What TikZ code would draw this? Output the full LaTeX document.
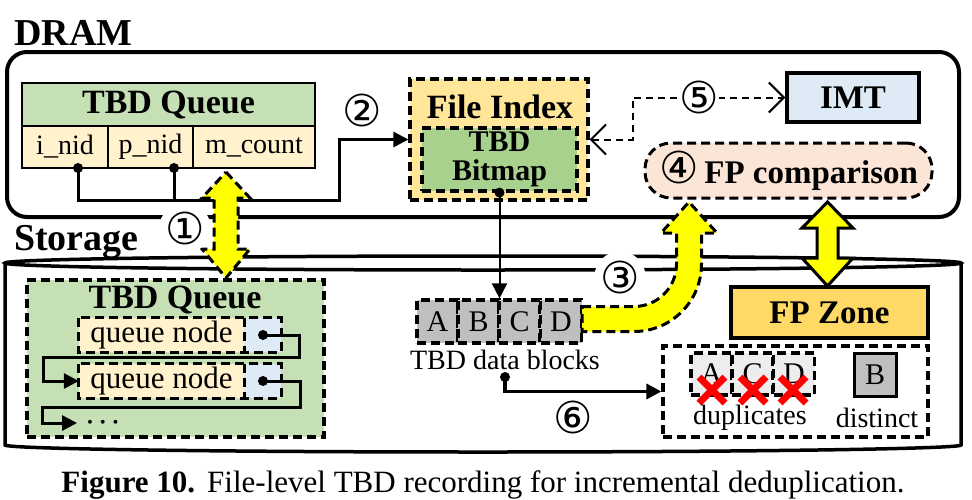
\documentclass[tikz,border=0pt]{standalone}
\usepackage{fontspec}
\setmainfont{Liberation Serif}
\newfontfamily\circfont{DejaVu Sans}
\usetikzlibrary{arrows.meta}
\definecolor{qgreen}{HTML}{C5E0B4}
\definecolor{qyel}{HTML}{FFF2CC}
\definecolor{qblue}{HTML}{DEEBF7}
\definecolor{fiorange}{HTML}{FFE699}
\definecolor{bmgreen}{HTML}{A9D18E}
\definecolor{fppeach}{HTML}{FBE5D6}
\definecolor{fpzone}{HTML}{FFD966}
\definecolor{blkgray}{HTML}{BFBFBF}
\definecolor{dupgray}{HTML}{EDEDED}
\definecolor{yel}{HTML}{FFFF00}
\definecolor{xred}{HTML}{FF0000}
\tikzset{
  conn/.style={line width=3pt},
  dsh/.style={dash pattern=on 9pt off 5pt},
  dbox/.style={draw, line width=3.2pt, dsh, inner sep=0pt},
  sbox/.style={draw, line width=3.5pt, inner sep=0pt},
  tcell/.style={draw, line width=2.2pt, inner sep=0pt},
  tri/.style={-{Triangle[length=15pt,width=15pt]}},
  barb/.style={{Straight Barb[length=15pt,width=30pt]}-{Straight Barb[length=15pt,width=30pt]}},
  yarrow/.style={fill=yel, draw, line width=3pt, dsh},
  ysolid/.style={fill=yel, draw, line width=3pt},
  lab/.style={inner sep=0pt},
  bigf/.style={font=\fontsize{38}{40}\selectfont\bfseries},
  hdrf/.style={font=\fontsize{34}{36}\selectfont\bfseries},
  bldf/.style={font=\fontsize{33}{35}\selectfont\bfseries},
  bmf/.style={font=\fontsize{30}{29}\selectfont\bfseries},
  regf/.style={font=\fontsize{28}{30}\selectfont},
  qnf/.style={font=\fontsize{31}{33}\selectfont},
  capf/.style={font=\fontsize{31}{33}\selectfont},
  letf/.style={font=\fontsize{30}{32}\selectfont},
  numf/.style={font=\fontsize{44}{46}\selectfont\circfont, inner sep=0pt},
  numw/.style={numf, fill=white, circle, inner sep=0pt},
  redx/.style={draw=xred, line width=7pt},
}
\begin{document}
\begin{tikzpicture}[x=1pt,y=-1pt]
\useasboundingbox (0,0) rectangle (972,499);
% ---------- DRAM ----------
\node[bigf, lab, anchor=base west] (dramlbl) at (14,45) {DRAM};
\draw[line width=4pt, rounded corners=20pt] (7,52) rectangle (959,217);
% ---------- Storage cylinder ----------
\node[bigf, lab, anchor=base west] (storlbl) at (14,250) {Storage};
\draw[line width=3.5pt, fill=white] (5,263) -- (5,445) arc[start angle=180, end angle=0, x radius=478, y radius=7] -- (961,263);
\draw[line width=3.5pt] (483,263) ellipse[x radius=478, y radius=7];

% ---------- DRAM TBD queue table ----------
\node[tcell, fill=qgreen, hdrf, minimum width=293pt, minimum height=43pt] (dq) at (168.5,104.5) {TBD Queue};
\node[tcell, fill=qyel, regf, minimum width=86pt, minimum height=42pt] (inid) at (65,147) {i\_nid};
\node[tcell, fill=qyel, regf, minimum width=85pt, minimum height=42pt] (pnid) at (150.5,147) {p\_nid};
\node[tcell, fill=qyel, regf, minimum width=122pt, minimum height=42pt] (mcount) at (254,147) {m\_count};

% ---------- File index ----------
\node[dbox, fill=fiorange, minimum width=178pt, minimum height=121pt] (fi) at (499,139.5) {};
\node[hdrf, lab, anchor=base] (filbl) at (500,118) {File Index};
\node[dbox, fill=bmgreen, bmf, align=center, minimum width=155pt, minimum height=63pt] (bm) at (499.5,159.5) {TBD\\Bitmap};

% ---------- IMT, FP comparison ----------
\node[sbox, fill=qblue, bldf, minimum width=132pt, minimum height=49pt] (imt) at (853,97.5) {IMT};
\node[draw, line width=3pt, dsh, rounded corners=26pt, fill=fppeach, bldf, inner sep=0pt, minimum width=287pt, minimum height=55pt] (fpc) at (788.5,170.5) {{\fontsize{44}{46}\selectfont\circfont\mdseries ④}\hspace{6pt}FP comparison};

% ---------- FP zone ----------
\node[sbox, fill=fpzone, bldf, minimum width=197pt, minimum height=51pt] (fpz) at (829.5,312.5) {FP Zone};

% ---------- Storage TBD queue ----------
\node[dbox, fill=qgreen, minimum width=297pt, minimum height=157pt] (sq) at (175.5,358.5) {};
\node[hdrf, lab, anchor=base] (sqlbl) at (175,308) {TBD Queue};
\node[fill=qyel, qnf, inner sep=0pt, minimum width=165pt, minimum height=34pt] (qn1) at (161.5,335) {queue node};
\node[fill=qblue, inner sep=0pt, minimum width=37pt, minimum height=34pt] (qb1) at (262.5,335) {};
\node[fill=qyel, qnf, inner sep=0pt, minimum width=165pt, minimum height=34pt] (qn2) at (161.5,381) {queue node};
\node[fill=qblue, inner sep=0pt, minimum width=37pt, minimum height=34pt] (qb2) at (262.5,381) {};
\draw[line width=3pt, dsh] (qn1.north west) rectangle (qb1.south east);
\draw[line width=3pt, dsh] (qn1.north east) -- (qn1.south east);
\draw[line width=3pt, dsh] (qn2.north west) rectangle (qb2.south east);
\draw[line width=3pt, dsh] (qn2.north east) -- (qn2.south east);
\coordinate (p1) at (263,335);
\coordinate (p2) at (263,381);
\coordinate (more) at (77,423);
\draw[conn, tri] (p1) -- (299,335) -- (299,357) -- (43,357) |- (qn2.west);
\draw[conn, tri] (p2) -- (300,381) -- (300,407) -- (42,407) |- (more);
\fill (p1) circle (5pt);
\fill (p2) circle (5pt);
\node[font=\fontsize{32}{34}\selectfont\boldmath, lab, anchor=base west] (dots) at (86,428) {$\cdots$};

% ---------- TBD data blocks ----------
\node[dbox, fill=blkgray, letf, minimum width=41pt, minimum height=43pt] (cA) at (437.5,321.5) {A};
\node[dbox, fill=blkgray, letf, minimum width=41pt, minimum height=43pt] (cB) at (478.5,321.5) {B};
\node[dbox, fill=blkgray, letf, minimum width=41pt, minimum height=43pt] (cC) at (519.5,321.5) {C};
\node[dbox, fill=blkgray, letf, minimum width=41pt, minimum height=43pt] (cD) at (561,321.5) {D};
\node[regf, lab] (tdb) at (505,360) {TBD data blocks};

% ---------- result box ----------
\node[dbox, minimum width=265pt, minimum height=91pt] (res) at (795.5,391.5) {};
\node[dbox, fill=dupgray, letf, minimum width=41pt, minimum height=42pt] (dA) at (711.5,374) {A};
\node[dbox, fill=dupgray, letf, minimum width=41pt, minimum height=42pt] (dC) at (752.5,374) {C};
\node[dbox, fill=dupgray, letf, minimum width=41pt, minimum height=42pt] (dD) at (794,374) {D};
\foreach \cx in {712,753,793}{
  \draw[redx] (\cx-13,377) -- (\cx+13,403);
  \draw[redx] (\cx-13,403) -- (\cx+13,377);
}
\node[sbox, line width=3pt, fill=blkgray, letf, minimum width=42pt, minimum height=43pt] (dB) at (875,374.5) {B};
\node[regf, lab] (duplbl) at (750,418) {duplicates};
\node[regf, lab] (dislbl) at (877,418) {distinct};

% ---------- connectors ----------
\coordinate (d1) at (78,168);
\coordinate (d2) at (174,168);
\draw[conn, tri] (d1) |- (339,200) |- (fi.west);
\draw[conn] (d2) -- (174,200);
\fill (d1) circle (5pt);
\fill (d2) circle (5pt);
\draw[line width=2pt, tri] (bm.south) -- (bm.south |- cB.north);
\fill (bm.south) circle (5pt);
\draw[line width=2pt, dash pattern=on 7pt off 5pt, barb] (fi.east) -| (633,97.5) -- (imt.west);
\coordinate (d6) at (505,377);
\draw[line width=3.5pt, tri] (d6) |- (res.west);
\fill (d6) circle (5pt);

% ---------- yellow arrows ----------
\draw[yarrow] (226,172) -- (250,198) -- (238,198) -- (238,249) -- (250,249) -- (226,278) -- (202,249) -- (214,249) -- (214,198) -- (202,198) -- cycle;
\draw[yarrow] (582,306.5) -- (634,306.5) arc[start angle=90, end angle=0, radius=42.5] -- (676.5,233) -- (661,233) -- (689,202) -- (717,233) -- (701.5,233) -- (701.5,264) arc[start angle=0, end angle=90, radius=67.5] -- (582,331.5) -- cycle;
\draw[ysolid] (827.5,202) -- (853,228) -- (838,228) -- (838,258) -- (853,258) -- (827.5,286) -- (802,258) -- (817,258) -- (817,228) -- (802,228) -- cycle;

% ---------- step numbers ----------
\node[numw] (n1) at (185,228) {①};
\node[numf] (n2) at (362,110) {②};
\node[numw] (n3) at (620,277) {③};
\node[numf, fill=white] (n5) at (699,97.5) {⑤};
\node[numf] (n6) at (573,417) {⑥};

% ---------- caption ----------
\node[capf, lab, anchor=base] (cap) at (483,492) {\textbf{Figure 10.}\hspace{12pt}File-level TBD recording for incremental deduplication.};
\end{tikzpicture}
\end{document}
